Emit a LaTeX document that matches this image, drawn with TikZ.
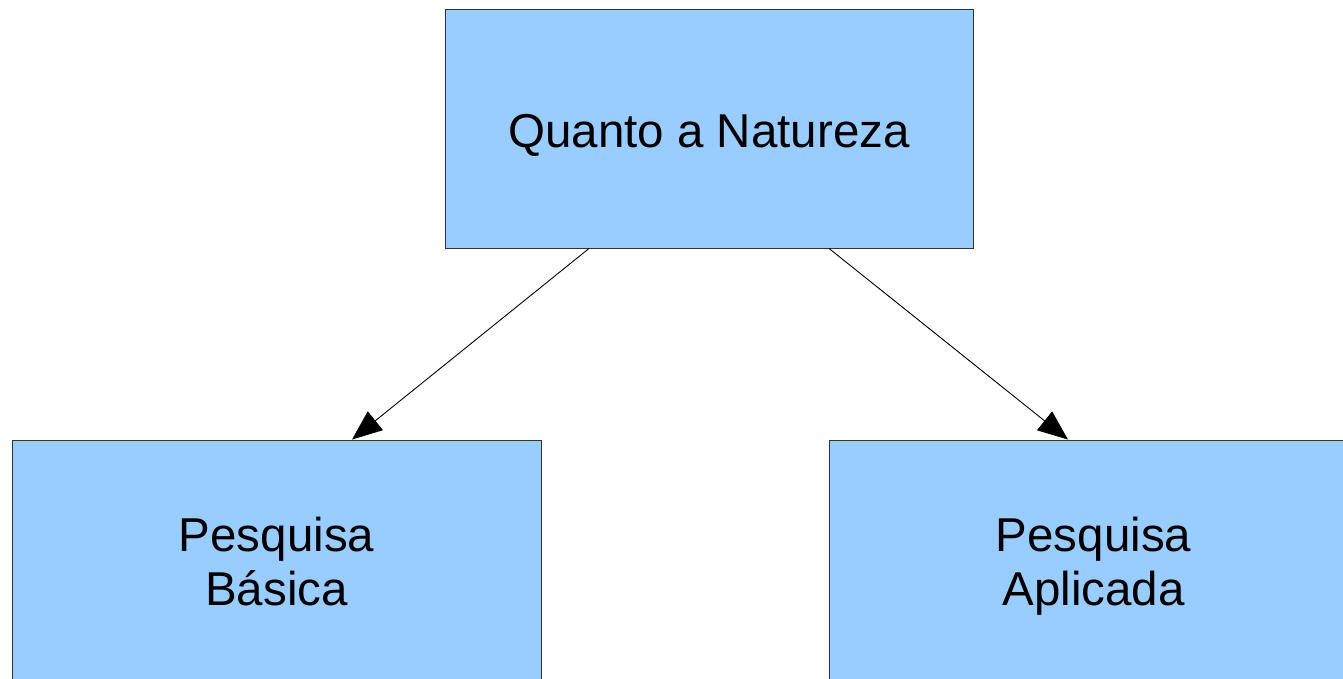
\documentclass[tikz,border=0pt]{standalone}
\usepackage{fontspec}
\setmainfont{Liberation Sans}
\usetikzlibrary{arrows.meta}
\definecolor{boxblue}{HTML}{99CCFF}

\begin{document}
\begin{tikzpicture}
[every node/.style={inner sep=0pt}, x=1pt, y=1pt]
\clip (0pt, 0pt) rectangle (1343pt, -678pt);
\node (nat) [rectangle, minimum width=528pt, minimum height=239pt, fill=boxblue, line width=0.9pt, draw=black!80, text height=41pt, text depth=3pt, font=\fontsize{47.5}{54}\selectfont] at (709.0pt, -128.5pt) {Quanto a Natureza};
\node (bas) [rectangle, minimum width=529pt, minimum height=252pt, fill=boxblue, line width=0.9pt, draw=black!80, align=center, font=\fontsize{47.5}{54}\selectfont] at (276.5pt, -566.0pt) {Pesquisa\\Básica\vphantom{p}};
\node (apl) [rectangle, minimum width=529pt, minimum height=252pt, fill=boxblue, line width=0.9pt, draw=black!80, align=center, font=\fontsize{47.5}{54}\selectfont] at (1093.5pt, -566.0pt) {Pesquisa\\Aplicada};
\draw [line width=0.9, -{Triangle[length=30pt, width=24pt]}, color=black] ([xshift=-120pt]nat.south) to ([xshift=75.5pt]bas.north);
\draw [line width=0.9, -{Triangle[length=30pt, width=24pt]}, color=black] ([xshift=120pt]nat.south) to ([xshift=-25.5pt]apl.north);
\end{tikzpicture}
\end{document}
